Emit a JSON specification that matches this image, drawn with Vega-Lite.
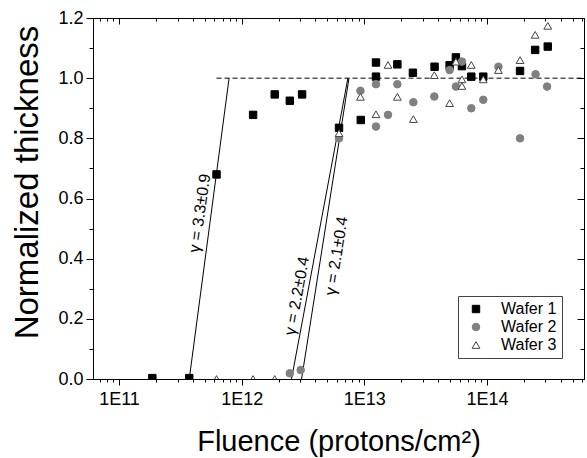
{
  "$schema": "https://vega.github.io/schema/vega-lite/v6.json",
  "width": 491,
  "height": 361,
  "autosize": {"type": "none"},
  "padding": {"left": 93, "top": 18, "right": 3, "bottom": 79},
  "background": "white",
  "config": {
    "view": {"stroke": "black", "strokeWidth": 1},
    "font": "Liberation Sans",
    "axis": {"grid": false, "ticks": true, "domainColor": "black", "tickColor": "black", "tickOpacity": 1, "labelColor": "black", "titleColor": "black", "titleFontWeight": "normal", "labelFont": "Liberation Sans", "titleFont": "Liberation Sans", "tickWidth": 1, "domainWidth": 1},
    "legend": {"labelFont": "Liberation Sans"}
  },
  "datasets": {
    "points": [
      {"wafer": "Wafer 1", "fluence": 1.87e11, "thickness": 0.003},
      {"wafer": "Wafer 1", "fluence": 3.74e11, "thickness": 0.003},
      {"wafer": "Wafer 1", "fluence": 6.24e11, "thickness": 0.68},
      {"wafer": "Wafer 1", "fluence": 1.24e12, "thickness": 0.878},
      {"wafer": "Wafer 1", "fluence": 1.86e12, "thickness": 0.946},
      {"wafer": "Wafer 1", "fluence": 2.47e12, "thickness": 0.925},
      {"wafer": "Wafer 1", "fluence": 3.11e12, "thickness": 0.946},
      {"wafer": "Wafer 1", "fluence": 6.22e12, "thickness": 0.835},
      {"wafer": "Wafer 1", "fluence": 9.36e12, "thickness": 0.861},
      {"wafer": "Wafer 1", "fluence": 1.245e13, "thickness": 1.052},
      {"wafer": "Wafer 1", "fluence": 1.245e13, "thickness": 1.005},
      {"wafer": "Wafer 1", "fluence": 1.86e13, "thickness": 1.046},
      {"wafer": "Wafer 1", "fluence": 2.49e13, "thickness": 1.018},
      {"wafer": "Wafer 1", "fluence": 3.74e13, "thickness": 1.038},
      {"wafer": "Wafer 1", "fluence": 4.96e13, "thickness": 1.043},
      {"wafer": "Wafer 1", "fluence": 5.58e13, "thickness": 1.069},
      {"wafer": "Wafer 1", "fluence": 6.25e13, "thickness": 1.04},
      {"wafer": "Wafer 1", "fluence": 7.45e13, "thickness": 1.005},
      {"wafer": "Wafer 1", "fluence": 9.33e13, "thickness": 1.005},
      {"wafer": "Wafer 1", "fluence": 1.86e14, "thickness": 1.024},
      {"wafer": "Wafer 1", "fluence": 2.47e14, "thickness": 1.094},
      {"wafer": "Wafer 1", "fluence": 3.13e14, "thickness": 1.105},
      {"wafer": "Wafer 2", "fluence": 2.47e12, "thickness": 0.019},
      {"wafer": "Wafer 2", "fluence": 3.03e12, "thickness": 0.03},
      {"wafer": "Wafer 2", "fluence": 6.22e12, "thickness": 0.8},
      {"wafer": "Wafer 2", "fluence": 9.3e12, "thickness": 0.958},
      {"wafer": "Wafer 2", "fluence": 1.245e13, "thickness": 0.98},
      {"wafer": "Wafer 2", "fluence": 1.245e13, "thickness": 0.839},
      {"wafer": "Wafer 2", "fluence": 1.56e13, "thickness": 0.878},
      {"wafer": "Wafer 2", "fluence": 1.86e13, "thickness": 0.98},
      {"wafer": "Wafer 2", "fluence": 2.51e13, "thickness": 0.92},
      {"wafer": "Wafer 2", "fluence": 3.72e13, "thickness": 0.939},
      {"wafer": "Wafer 2", "fluence": 4.96e13, "thickness": 1.027},
      {"wafer": "Wafer 2", "fluence": 5.58e13, "thickness": 0.972},
      {"wafer": "Wafer 2", "fluence": 6.25e13, "thickness": 1.055},
      {"wafer": "Wafer 2", "fluence": 7.45e13, "thickness": 0.9},
      {"wafer": "Wafer 2", "fluence": 9.33e13, "thickness": 0.928},
      {"wafer": "Wafer 2", "fluence": 1.24e14, "thickness": 1.038},
      {"wafer": "Wafer 2", "fluence": 1.86e14, "thickness": 0.8},
      {"wafer": "Wafer 2", "fluence": 2.49e14, "thickness": 1.013},
      {"wafer": "Wafer 2", "fluence": 3.09e14, "thickness": 0.972},
      {"wafer": "Wafer 3", "fluence": 6.24e11, "thickness": 0.0},
      {"wafer": "Wafer 3", "fluence": 1.24e12, "thickness": 0.0},
      {"wafer": "Wafer 3", "fluence": 1.86e12, "thickness": 0.0},
      {"wafer": "Wafer 3", "fluence": 6.22e12, "thickness": 0.817},
      {"wafer": "Wafer 3", "fluence": 9.3e12, "thickness": 0.938},
      {"wafer": "Wafer 3", "fluence": 1.245e13, "thickness": 0.88},
      {"wafer": "Wafer 3", "fluence": 1.56e13, "thickness": 1.044},
      {"wafer": "Wafer 3", "fluence": 1.86e13, "thickness": 0.938},
      {"wafer": "Wafer 3", "fluence": 2.51e13, "thickness": 0.864},
      {"wafer": "Wafer 3", "fluence": 3.72e13, "thickness": 1.01},
      {"wafer": "Wafer 3", "fluence": 4.96e13, "thickness": 0.917},
      {"wafer": "Wafer 3", "fluence": 5.58e13, "thickness": 1.055},
      {"wafer": "Wafer 3", "fluence": 6.25e13, "thickness": 0.996},
      {"wafer": "Wafer 3", "fluence": 6.25e13, "thickness": 0.974},
      {"wafer": "Wafer 3", "fluence": 7.45e13, "thickness": 1.044},
      {"wafer": "Wafer 3", "fluence": 9.33e13, "thickness": 0.996},
      {"wafer": "Wafer 3", "fluence": 1.24e14, "thickness": 1.027},
      {"wafer": "Wafer 3", "fluence": 1.86e14, "thickness": 1.06},
      {"wafer": "Wafer 3", "fluence": 2.47e14, "thickness": 1.144},
      {"wafer": "Wafer 3", "fluence": 3.13e14, "thickness": 1.174}
    ],
    "ref": [
      {"fluence": 6.24e11, "thickness": 1.0},
      {"fluence": 6.18e14, "thickness": 1.0}
    ],
    "fits": [
      {"fit": "a", "fluence": 3.74e11, "thickness": 0.0},
      {"fit": "a", "fluence": 7.9e11, "thickness": 1.0},
      {"fit": "b", "fluence": 2.55e12, "thickness": 0.0},
      {"fit": "b", "fluence": 7.35e12, "thickness": 1.0},
      {"fit": "c", "fluence": 3.08e12, "thickness": 0.0},
      {"fit": "c", "fluence": 7.5e12, "thickness": 1.0}
    ],
    "labels": [
      {"fit": "a", "fluence": 4.57e11, "thickness": 0.551, "label": "γ = 3.3±0.9"},
      {"fit": "b", "fluence": 2.83e12, "thickness": 0.276, "label": "γ = 2.2±0.4"},
      {"fit": "c", "fluence": 5.93e12, "thickness": 0.409, "label": "γ = 2.1±0.4"}
    ]
  },
  "layer": [
    {
      "data": {"name": "ref"},
      "mark": {"type": "line", "color": "black", "strokeWidth": 1, "strokeDash": [5, 3]},
      "encoding": {
        "x": {
          "field": "fluence", "type": "quantitative",
          "scale": {"type": "log", "domain": [6.14e10, 6.18e14], "nice": false},
          "axis": {
            "orient": "bottom",
            "values": [1e11, 1e12, 1e13, 1e14],
            "labelExpr": "'1E' + round(log(datum.value)/LN10)",
            "ticks": true,
            "tickSize": 6,
            "labelFontSize": 18,
            "labelPadding": 5,
            "labelOverlap": false,
            "labelFlush": false,
            "title": "Fluence (protons/cm²)",
            "titleFontSize": 29,
            "titleY": 71,
            "titleBaseline": "alphabetic"
          }
        },
        "y": {
          "field": "thickness", "type": "quantitative",
          "scale": {"domain": [0, 1.2], "nice": false, "zero": false},
          "axis": {
            "orient": "left",
            "values": [0, 0.2, 0.4, 0.6, 0.8, 1.0, 1.2],
            "format": ".1f",
            "ticks": true,
            "tickSize": 7,
            "labelFontSize": 18,
            "labelPadding": 3,
            "labelOverlap": false,
            "labelFlush": false,
            "title": "Normalized thickness",
            "titleFontSize": 33,
            "titleX": -56,
            "titleY": 164,
            "titleBaseline": "alphabetic"
          }
        }
      }
    },
    {
      "data": {"name": "fits"},
      "mark": {"type": "line", "color": "black", "strokeWidth": 1},
      "encoding": {
        "x": {
          "field": "fluence", "type": "quantitative",
          "scale": {"type": "log", "domain": [6.14e10, 6.18e14], "nice": false},
          "axis": {
            "orient": "bottom",
            "values": [7e10, 8e10, 9e10, 2e11, 3e11, 4e11, 5e11, 6e11, 7e11, 8e11, 9e11, 2e12, 3e12, 4e12, 5e12, 6e12, 7e12, 8e12, 9e12, 2e13, 3e13, 4e13, 5e13, 6e13, 7e13, 8e13, 9e13, 2e14, 3e14, 4e14, 5e14, 6e14],
            "labels": false,
            "ticks": true,
            "domain": false,
            "title": null,
            "tickSize": 3
          }
        },
        "y": {
          "field": "thickness", "type": "quantitative",
          "scale": {"domain": [0, 1.2], "nice": false, "zero": false},
          "axis": {
            "orient": "left",
            "values": [0.1, 0.3, 0.5, 0.7, 0.9, 1.1],
            "labels": false,
            "ticks": true,
            "domain": false,
            "title": null,
            "tickSize": 4
          }
        },
        "detail": {"field": "fit", "type": "nominal"}
      }
    },
    {
      "data": {"name": "points"},
      "mark": {"type": "point", "filled": false, "opacity": 1, "strokeWidth": 1, "clip": true},
      "encoding": {
        "x": {"field": "fluence", "type": "quantitative", "scale": {"type": "log", "domain": [6.14e10, 6.18e14], "nice": false}, "axis": null},
        "y": {"field": "thickness", "type": "quantitative", "scale": {"domain": [0, 1.2], "nice": false, "zero": false}, "axis": null},
        "shape": {"field": "wafer", "type": "nominal", "title": null, "scale": {"domain": ["Wafer 1", "Wafer 2", "Wafer 3"], "range": ["square", "circle", "triangle-up"]},
          "legend": {"orient": "none", "legendX": 365, "legendY": 278, "strokeColor": "#444", "fillColor": "white", "padding": 5, "labelFontSize": 16, "labelColor": "black", "symbolOffset": 5, "labelOffset": 17, "rowPadding": 2, "symbolStrokeWidth": 1}},
        "fill": {"field": "wafer", "type": "nominal", "title": null, "scale": {"domain": ["Wafer 1", "Wafer 2", "Wafer 3"], "range": ["black", "#808080", "white"]}},
        "stroke": {"field": "wafer", "type": "nominal", "title": null, "scale": {"domain": ["Wafer 1", "Wafer 2", "Wafer 3"], "range": ["black", "#808080", "#444444"]}},
        "size": {"field": "wafer", "type": "nominal", "title": null, "scale": {"domain": ["Wafer 1", "Wafer 2", "Wafer 3"], "range": [55, 60, 85]}}
      }
    },
    {
      "data": {"name": "labels"},
      "transform": [{"filter": "datum.fit == 'a'"}],
      "mark": {"type": "text", "angle": -82, "fontSize": 16, "align": "center", "baseline": "middle", "color": "black", "font": "Liberation Sans"},
      "encoding": {
        "x": {
          "field": "fluence", "type": "quantitative",
          "scale": {"type": "log", "domain": [6.14e10, 6.18e14], "nice": false},
          "axis": {"orient": "top", "offset": -6, "values": [1e11, 1e12, 1e13, 1e14], "labels": false, "ticks": true, "domain": false, "title": null, "tickSize": 6}
        },
        "y": {
          "field": "thickness", "type": "quantitative",
          "scale": {"domain": [0, 1.2], "nice": false, "zero": false},
          "axis": {"orient": "right", "offset": -7, "values": [0, 0.2, 0.4, 0.6, 0.8, 1.0, 1.2], "labels": false, "ticks": true, "domain": false, "title": null, "tickSize": 7}
        },
        "text": {"field": "label"}
      }
    },
    {
      "data": {"name": "labels"},
      "transform": [{"filter": "datum.fit == 'b'"}],
      "mark": {"type": "text", "angle": -79.5, "fontSize": 16, "align": "center", "baseline": "middle", "color": "black", "font": "Liberation Sans"},
      "encoding": {
        "x": {
          "field": "fluence", "type": "quantitative",
          "scale": {"type": "log", "domain": [6.14e10, 6.18e14], "nice": false},
          "axis": {"orient": "top", "offset": -3, "values": [7e10, 8e10, 9e10, 2e11, 3e11, 4e11, 5e11, 6e11, 7e11, 8e11, 9e11, 2e12, 3e12, 4e12, 5e12, 6e12, 7e12, 8e12, 9e12, 2e13, 3e13, 4e13, 5e13, 6e13, 7e13, 8e13, 9e13, 2e14, 3e14, 4e14, 5e14, 6e14], "labels": false, "ticks": true, "domain": false, "title": null, "tickSize": 3}
        },
        "y": {
          "field": "thickness", "type": "quantitative",
          "scale": {"domain": [0, 1.2], "nice": false, "zero": false},
          "axis": {"orient": "right", "offset": -4, "values": [0.1, 0.3, 0.5, 0.7, 0.9, 1.1], "labels": false, "ticks": true, "domain": false, "title": null, "tickSize": 4}
        },
        "text": {"field": "label"}
      }
    },
    {
      "data": {"name": "labels"},
      "transform": [{"filter": "datum.fit == 'c'"}],
      "mark": {"type": "text", "angle": -81, "fontSize": 16, "align": "center", "baseline": "middle", "color": "black", "font": "Liberation Sans"},
      "encoding": {
        "x": {"field": "fluence", "type": "quantitative", "scale": {"type": "log", "domain": [6.14e10, 6.18e14], "nice": false}, "axis": null},
        "y": {"field": "thickness", "type": "quantitative", "scale": {"domain": [0, 1.2], "nice": false, "zero": false}, "axis": null},
        "text": {"field": "label"}
      }
    }
  ],
  "resolve": {"axis": {"x": "independent", "y": "independent"}}
}
